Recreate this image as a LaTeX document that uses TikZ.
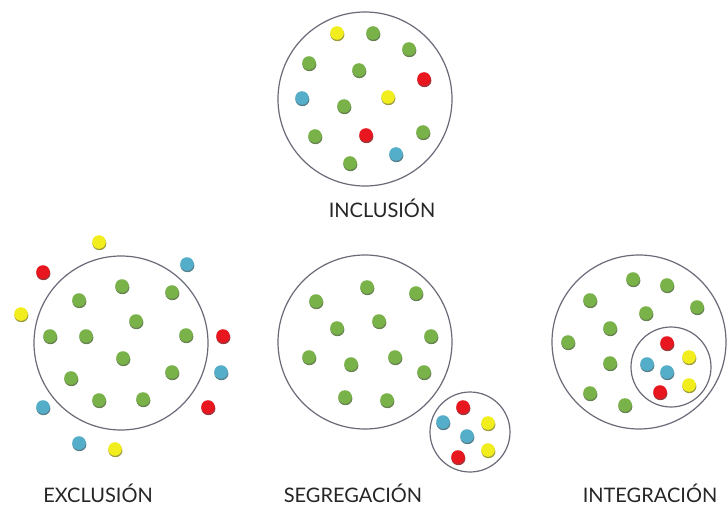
\documentclass[tikz,border=0pt]{standalone}
\usepackage{fontspec}
\setmainfont{Lato}
\definecolor{dg}{HTML}{78B248}
\definecolor{dy}{HTML}{F2EE1E}
\definecolor{dr}{HTML}{E8161E}
\definecolor{db}{HTML}{55AEC9}
\definecolor{ring}{HTML}{6A6A78}
\newcommand{\mydot}[3]{%
  \fill[#1!55!black,opacity=0.8] (#2+0.4,#3+1.6) ellipse (7.0 and 6.6);
  \fill[#1] (#2,#3) circle (6.8);}
\tikzset{
  bigring/.style={draw=ring,line width=1.2pt,fill=white,circle,minimum size=174pt,inner sep=0pt},
  smallring/.style={draw=ring,line width=1.2pt,fill=white,circle,minimum size=80pt,inner sep=0pt},
  lbl/.style={font=\fontsize{20}{22}\selectfont,text=black!85,inner sep=0pt,anchor=base}
}
\begin{document}
\begin{tikzpicture}[x=1pt,y=-1pt]
\useasboundingbox (0,0) rectangle (728,508);
\fill[white] (0,0) rectangle (728,508);
% ---------- INCLUSION ----------
\node[bigring] (inc) at (365,99) {};
\foreach \c/\x/\y in {dy/337/33, dg/373/33, dg/409/49, dg/309/63, dg/359/70, dr/424/79,
  db/302/98, dy/388/97, dg/344/106, dg/315/136, dr/366/135, dg/423/132, db/396/154, dg/350/163}
  {\mydot{\c}{\x}{\y}}
\node[lbl] (tinc) at (382,217) {INCLUSIÓN};
% ---------- EXCLUSION ----------
\node[bigring] (exc) at (121,343) {};
\foreach \c/\x/\y in {dy/99/242, dr/43/272, db/187/264, dy/21/314, dg/122/286, dg/172/292,
  dg/79/300, dg/136/321, dg/50/336, dg/86/336, dg/186/335, dr/223/336, dg/123/358,
  db/221/372, dg/71/378, dg/172/372, db/43/407, dr/208/407, dg/99/400, dg/143/399,
  db/79/443, dy/115/449}
  {\mydot{\c}{\x}{\y}}
\node[lbl] (texc) at (98,502) {EXCLUSIÓN};
% ---------- SEGREGACION ----------
\node[bigring] (seg) at (365,342) {};
\node[smallring] (segs) at (470,432) {};
\foreach \c/\x/\y in {dg/367/287, dg/416/293, dg/316/301, dg/379/321, dg/337/328, dg/431/336,
  dg/309/357, dg/351/364, dg/395/357, dg/424/372, dg/345/397, dg/387/400,
  dr/463/407, db/443/422, dy/488/423, db/467/436, dy/488/450, dr/458/457}
  {\mydot{\c}{\x}{\y}}
\node[lbl] (tseg) at (353,502) {SEGREGACIÓN};
% ---------- INTEGRACION ----------
\node[bigring] (int) at (639,342) {};
\node[smallring] (ints) at (671,367) {};
\foreach \c/\x/\y in {dg/633/279, dg/667/285, dg/590/300, dg/697/307, dg/646/313, dg/610/328,
  dg/568/342, dr/667/343, dy/689/357, db/647/364, dg/610/363, db/667/372, dy/689/385,
  dr/660/392, dg/590/393, dg/625/405}
  {\mydot{\c}{\x}{\y}}
\node[lbl] (tint) at (650,502) {INTEGRACIÓN};
\end{tikzpicture}
\end{document}
